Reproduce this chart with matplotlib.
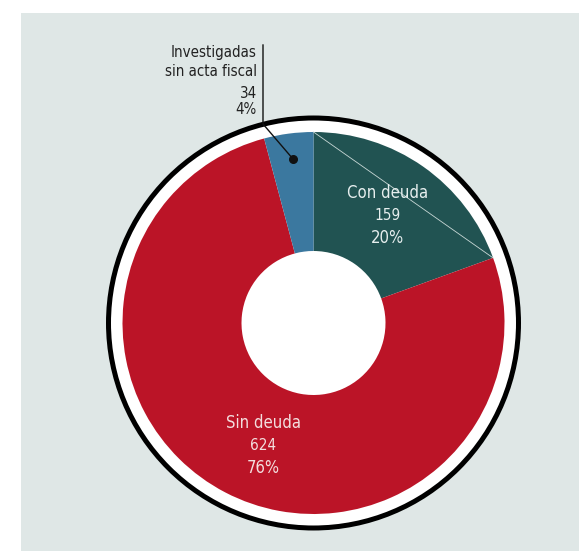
import matplotlib
matplotlib.use("Agg")
import matplotlib.pyplot as plt
from matplotlib.patches import Rectangle, Circle
from matplotlib import font_manager as fm
import numpy as np

categories = ["Con deuda", "Sin deuda", "Investigadas\nsin acta fiscal"]
values = [159, 624, 34]
percents = ["20%", "76%", "4%"]
colors = ["#215352", "#bb1427", "#3b789f"]

# pick a narrow font if available
names = {f.name for f in fm.fontManager.ttflist}
stretches = {(f.name, f.stretch) for f in fm.fontManager.ttflist}
font_kw = dict(family=["DejaVu Sans"])
narrow_scale = 1.0
if "Liberation Sans Narrow" in names:
    font_kw = dict(family=["Liberation Sans Narrow", "DejaVu Sans"])
elif any(n == "DejaVu Sans" and s in ("condensed", 300, "semi-condensed") for n, s in stretches):
    font_kw = dict(family=["DejaVu Sans"], fontstretch="condensed")
else:
    cands = [n for n in names if "Condensed" in n or "Narrow" in n]
    if cands:
        font_kw = dict(family=[sorted(cands)[0], "DejaVu Sans"])
    else:
        narrow_scale = 0.85

W, H = 579, 551
fig = plt.figure(figsize=(W / 100, H / 100), dpi=100)
ax = fig.add_axes([0, 0, 1, 1])

def Y(y):
    return H - y

ax.add_patch(Rectangle((21, 0), W - 21, H - 13, facecolor="#dfe7e6", edgecolor="none", zorder=0))

cx, cy = 313.5, Y(323)
R = 191
hole = 72

ax.add_patch(Circle((cx, cy), 205, facecolor="white", edgecolor="black", lw=3.6, zorder=1))

wedges, _ = ax.pie(values, colors=colors, startangle=90, counterclock=False,
                   center=(cx, cy), radius=R,
                   wedgeprops=dict(width=R - hole, edgecolor="none", zorder=2))
ax.set_xlim(0, W)
ax.set_ylim(0, H)
ax.set_aspect("equal")
ax.axis("off")

a0 = np.deg2rad(90)
a1 = np.deg2rad(90 - 360 * values[0] / sum(values))
ax.plot([cx + R * np.cos(a0), cx + R * np.cos(a1)],
        [cy + R * np.sin(a0), cy + R * np.sin(a1)],
        color="#c8d8d6", lw=0.6, zorder=3)

fs = 12.0 * narrow_scale
fs2 = 10.8 * narrow_scale
light1 = "#e6eeee"
light2 = "#f3dede"
ax.text(388, Y(193), categories[0], ha="center", va="center", color=light1, fontsize=fs, zorder=5, **font_kw)
ax.text(388, Y(216), str(values[0]), ha="center", va="center", color=light1, fontsize=fs - 1, zorder=5, **font_kw)
ax.text(388, Y(238), percents[0], ha="center", va="center", color=light1, fontsize=fs, zorder=5, **font_kw)
ax.text(263, Y(423), categories[1], ha="center", va="center", color=light2, fontsize=fs, zorder=5, **font_kw)
ax.text(263, Y(445), str(values[1]), ha="center", va="center", color=light2, fontsize=fs - 1, zorder=5, **font_kw)
ax.text(263, Y(468), percents[1], ha="center", va="center", color=light2, fontsize=fs, zorder=5, **font_kw)

lines = categories[2].split("\n") + [str(values[2]), percents[2]]
ys = [52, 72, 93, 110]
for t, yy in zip(lines, ys):
    ax.text(257, Y(yy), t, ha="right", va="center", color="#222222", fontsize=fs2, zorder=5, **font_kw)

ax.plot([263, 263, 293], [Y(45), Y(124), Y(159)], color="#111111", lw=1.0, zorder=6)
ax.scatter([293], [Y(159)], s=30, color="#111111", zorder=7)

fig.savefig("out.png", dpi=100)
